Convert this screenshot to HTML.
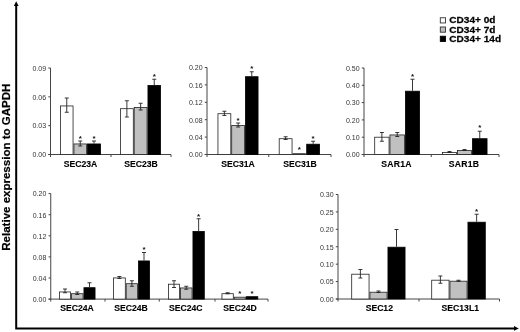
<!DOCTYPE html>
<html><head><meta charset="utf-8"><title>Relative expression to GAPDH</title>
<style>
html,body{margin:0;padding:0;background:#fff;}
body{width:520px;height:332px;overflow:hidden;}
svg{display:block;filter:blur(0.3px);}
text{font-family:"Liberation Sans",Arial,sans-serif;}
.t{font-size:8px;fill:#333;}
.c{font-size:8.65px;font-weight:bold;fill:#000;stroke:#000;stroke-width:0.12px;}
.s{font-size:8px;font-weight:bold;fill:#111;}
.l{font-size:9.3px;font-weight:bold;fill:#000;stroke:#000;stroke-width:0.25px;}
.y{font-size:10.2px;font-weight:bold;fill:#000;stroke:#000;stroke-width:0.2px;}
</style></head><body>
<svg width="520" height="332" viewBox="0 0 520 332">
<rect width="520" height="332" fill="#fff"/>
<line x1="50.5" y1="68" x2="50.5" y2="157.0" stroke="#444" stroke-width="1"/>
<line x1="48.3" y1="154.5" x2="171" y2="154.5" stroke="#444" stroke-width="1"/>
<line x1="48.3" y1="68.0" x2="50.5" y2="68.0" stroke="#444" stroke-width="1"/>
<text class="t" transform="translate(46.1,70.8) scale(0.88,1)" text-anchor="end">0.09</text>
<line x1="48.3" y1="96.83" x2="50.5" y2="96.83" stroke="#444" stroke-width="1"/>
<text class="t" transform="translate(46.1,99.63) scale(0.88,1)" text-anchor="end">0.06</text>
<line x1="48.3" y1="125.67" x2="50.5" y2="125.67" stroke="#444" stroke-width="1"/>
<text class="t" transform="translate(46.1,128.47) scale(0.88,1)" text-anchor="end">0.03</text>
<line x1="48.3" y1="154.5" x2="50.5" y2="154.5" stroke="#444" stroke-width="1"/>
<text class="t" transform="translate(46.1,157.3) scale(0.88,1)" text-anchor="end">0.00</text>
<line x1="111" y1="154.5" x2="111" y2="157.0" stroke="#444" stroke-width="1"/>
<line x1="171" y1="154.5" x2="171" y2="157.0" stroke="#444" stroke-width="1"/>
<text class="c" x="80.5" y="166.5" text-anchor="middle">SEC23A</text>
<text class="c" x="141" y="166.5" text-anchor="middle">SEC23B</text>
<rect x="60.45" y="105.95" width="12.6" height="48.55" fill="#fff" stroke="#222" stroke-width="0.8"/>
<line x1="66.75" y1="98" x2="66.75" y2="112.25" stroke="#222" stroke-width="0.9"/>
<line x1="64.75" y1="98" x2="68.75" y2="98" stroke="#222" stroke-width="0.9"/>
<line x1="64.75" y1="112.25" x2="68.75" y2="112.25" stroke="#222" stroke-width="0.9"/>
<rect x="73.95" y="143.95" width="12.6" height="10.55" fill="#c0c0c0" stroke="#222" stroke-width="0.8"/>
<line x1="80.25" y1="141" x2="80.25" y2="146" stroke="#222" stroke-width="0.9"/>
<line x1="78.25" y1="141" x2="82.25" y2="141" stroke="#222" stroke-width="0.9"/>
<line x1="78.25" y1="146" x2="82.25" y2="146" stroke="#222" stroke-width="0.9"/>
<text class="s" x="80.25" y="140.65" text-anchor="middle">*</text>
<rect x="87.45" y="143.95" width="13.1" height="10.55" fill="#000" stroke="#000" stroke-width="0.8"/>
<line x1="94.0" y1="141" x2="94.0" y2="143.5" stroke="#222" stroke-width="0.9"/>
<line x1="92.0" y1="141" x2="96.0" y2="141" stroke="#222" stroke-width="0.9"/>
<text class="s" x="94.0" y="140.65" text-anchor="middle">*</text>
<rect x="120.45" y="108.7" width="12.85" height="45.8" fill="#fff" stroke="#222" stroke-width="0.8"/>
<line x1="126.875" y1="100.75" x2="126.875" y2="117" stroke="#222" stroke-width="0.9"/>
<line x1="124.875" y1="100.75" x2="128.875" y2="100.75" stroke="#222" stroke-width="0.9"/>
<line x1="124.875" y1="117" x2="128.875" y2="117" stroke="#222" stroke-width="0.9"/>
<rect x="134.2" y="107.45" width="12.85" height="47.05" fill="#c0c0c0" stroke="#222" stroke-width="0.8"/>
<line x1="140.625" y1="103.25" x2="140.625" y2="110" stroke="#222" stroke-width="0.9"/>
<line x1="138.625" y1="103.25" x2="142.625" y2="103.25" stroke="#222" stroke-width="0.9"/>
<line x1="138.625" y1="110" x2="142.625" y2="110" stroke="#222" stroke-width="0.9"/>
<rect x="147.95" y="85.45" width="12.6" height="69.05" fill="#000" stroke="#000" stroke-width="0.8"/>
<line x1="154.25" y1="79.25" x2="154.25" y2="85" stroke="#222" stroke-width="0.9"/>
<line x1="152.25" y1="79.25" x2="156.25" y2="79.25" stroke="#222" stroke-width="0.9"/>
<text class="s" x="154.25" y="78.9" text-anchor="middle">*</text>
<line x1="207" y1="67.5" x2="207" y2="157.0" stroke="#444" stroke-width="1"/>
<line x1="204.8" y1="154.5" x2="331" y2="154.5" stroke="#444" stroke-width="1"/>
<line x1="204.8" y1="67.5" x2="207" y2="67.5" stroke="#444" stroke-width="1"/>
<text class="t" transform="translate(202.6,70.3) scale(0.88,1)" text-anchor="end">0.20</text>
<line x1="204.8" y1="84.9" x2="207" y2="84.9" stroke="#444" stroke-width="1"/>
<text class="t" transform="translate(202.6,87.7) scale(0.88,1)" text-anchor="end">0.16</text>
<line x1="204.8" y1="102.3" x2="207" y2="102.3" stroke="#444" stroke-width="1"/>
<text class="t" transform="translate(202.6,105.1) scale(0.88,1)" text-anchor="end">0.12</text>
<line x1="204.8" y1="119.7" x2="207" y2="119.7" stroke="#444" stroke-width="1"/>
<text class="t" transform="translate(202.6,122.5) scale(0.88,1)" text-anchor="end">0.08</text>
<line x1="204.8" y1="137.1" x2="207" y2="137.1" stroke="#444" stroke-width="1"/>
<text class="t" transform="translate(202.6,139.9) scale(0.88,1)" text-anchor="end">0.04</text>
<line x1="204.8" y1="154.5" x2="207" y2="154.5" stroke="#444" stroke-width="1"/>
<text class="t" transform="translate(202.6,157.3) scale(0.88,1)" text-anchor="end">0.00</text>
<line x1="268.75" y1="154.5" x2="268.75" y2="157.0" stroke="#444" stroke-width="1"/>
<line x1="331" y1="154.5" x2="331" y2="157.0" stroke="#444" stroke-width="1"/>
<text class="c" x="238" y="166.5" text-anchor="middle">SEC31A</text>
<text class="c" x="300" y="166.5" text-anchor="middle">SEC31B</text>
<rect x="217.95" y="113.7" width="12.85" height="40.8" fill="#fff" stroke="#222" stroke-width="0.8"/>
<line x1="224.375" y1="111.25" x2="224.375" y2="115.5" stroke="#222" stroke-width="0.9"/>
<line x1="222.375" y1="111.25" x2="226.375" y2="111.25" stroke="#222" stroke-width="0.9"/>
<line x1="222.375" y1="115.5" x2="226.375" y2="115.5" stroke="#222" stroke-width="0.9"/>
<rect x="231.7" y="125.45" width="12.85" height="29.05" fill="#c0c0c0" stroke="#222" stroke-width="0.8"/>
<line x1="238.125" y1="123" x2="238.125" y2="127" stroke="#222" stroke-width="0.9"/>
<line x1="236.125" y1="123" x2="240.125" y2="123" stroke="#222" stroke-width="0.9"/>
<line x1="236.125" y1="127" x2="240.125" y2="127" stroke="#222" stroke-width="0.9"/>
<text class="s" x="238.125" y="123.4" text-anchor="middle">*</text>
<rect x="245.45" y="76.7" width="12.6" height="77.8" fill="#000" stroke="#000" stroke-width="0.8"/>
<line x1="251.75" y1="71.75" x2="251.75" y2="76.25" stroke="#222" stroke-width="0.9"/>
<line x1="249.75" y1="71.75" x2="253.75" y2="71.75" stroke="#222" stroke-width="0.9"/>
<text class="s" x="251.75" y="70.5" text-anchor="middle">*</text>
<rect x="279.2" y="138.7" width="12.85" height="15.8" fill="#fff" stroke="#222" stroke-width="0.8"/>
<line x1="285.625" y1="136.75" x2="285.625" y2="139.5" stroke="#222" stroke-width="0.9"/>
<line x1="283.625" y1="136.75" x2="287.625" y2="136.75" stroke="#222" stroke-width="0.9"/>
<line x1="283.625" y1="139.5" x2="287.625" y2="139.5" stroke="#222" stroke-width="0.9"/>
<rect x="292.95" y="153.7" width="12.6" height="0.8" fill="#c0c0c0" stroke="#222" stroke-width="0.8"/>
<text class="s" x="299.25" y="152.15" text-anchor="middle">*</text>
<rect x="306.7" y="144.2" width="12.85" height="10.3" fill="#000" stroke="#000" stroke-width="0.8"/>
<line x1="313.125" y1="141.25" x2="313.125" y2="143.75" stroke="#222" stroke-width="0.9"/>
<line x1="311.125" y1="141.25" x2="315.125" y2="141.25" stroke="#222" stroke-width="0.9"/>
<text class="s" x="313.125" y="141.4" text-anchor="middle">*</text>
<line x1="364" y1="68" x2="364" y2="157.0" stroke="#444" stroke-width="1"/>
<line x1="361.8" y1="154.5" x2="499" y2="154.5" stroke="#444" stroke-width="1"/>
<line x1="361.8" y1="68.0" x2="364" y2="68.0" stroke="#444" stroke-width="1"/>
<text class="t" transform="translate(359.6,70.8) scale(0.88,1)" text-anchor="end">0.50</text>
<line x1="361.8" y1="85.3" x2="364" y2="85.3" stroke="#444" stroke-width="1"/>
<text class="t" transform="translate(359.6,88.1) scale(0.88,1)" text-anchor="end">0.40</text>
<line x1="361.8" y1="102.6" x2="364" y2="102.6" stroke="#444" stroke-width="1"/>
<text class="t" transform="translate(359.6,105.4) scale(0.88,1)" text-anchor="end">0.30</text>
<line x1="361.8" y1="119.9" x2="364" y2="119.9" stroke="#444" stroke-width="1"/>
<text class="t" transform="translate(359.6,122.7) scale(0.88,1)" text-anchor="end">0.20</text>
<line x1="361.8" y1="137.2" x2="364" y2="137.2" stroke="#444" stroke-width="1"/>
<text class="t" transform="translate(359.6,140.0) scale(0.88,1)" text-anchor="end">0.10</text>
<line x1="361.8" y1="154.5" x2="364" y2="154.5" stroke="#444" stroke-width="1"/>
<text class="t" transform="translate(359.6,157.3) scale(0.88,1)" text-anchor="end">0.00</text>
<line x1="431.25" y1="154.5" x2="431.25" y2="157.0" stroke="#444" stroke-width="1"/>
<line x1="499" y1="154.5" x2="499" y2="157.0" stroke="#444" stroke-width="1"/>
<text class="c" x="396.5" y="166.5" text-anchor="middle" letter-spacing="0.3">SAR1A</text>
<text class="c" x="464" y="166.5" text-anchor="middle" letter-spacing="0.3">SAR1B</text>
<rect x="374.7" y="137.2" width="14.35" height="17.3" fill="#fff" stroke="#222" stroke-width="0.8"/>
<line x1="381.875" y1="132.5" x2="381.875" y2="141.25" stroke="#222" stroke-width="0.9"/>
<line x1="379.875" y1="132.5" x2="383.875" y2="132.5" stroke="#222" stroke-width="0.9"/>
<line x1="379.875" y1="141.25" x2="383.875" y2="141.25" stroke="#222" stroke-width="0.9"/>
<rect x="389.95" y="134.95" width="14.6" height="19.55" fill="#c0c0c0" stroke="#222" stroke-width="0.8"/>
<line x1="397.25" y1="132.5" x2="397.25" y2="136.5" stroke="#222" stroke-width="0.9"/>
<line x1="395.25" y1="132.5" x2="399.25" y2="132.5" stroke="#222" stroke-width="0.9"/>
<line x1="395.25" y1="136.5" x2="399.25" y2="136.5" stroke="#222" stroke-width="0.9"/>
<rect x="405.45" y="91.2" width="14.1" height="63.3" fill="#000" stroke="#000" stroke-width="0.8"/>
<line x1="412.5" y1="79.25" x2="412.5" y2="90.75" stroke="#222" stroke-width="0.9"/>
<line x1="410.5" y1="79.25" x2="414.5" y2="79.25" stroke="#222" stroke-width="0.9"/>
<text class="s" x="412.5" y="78.9" text-anchor="middle">*</text>
<rect x="442.45" y="152.45" width="14.1" height="2.05" fill="#fff" stroke="#222" stroke-width="0.8"/>
<line x1="449.5" y1="151.5" x2="449.5" y2="152.5" stroke="#222" stroke-width="0.9"/>
<line x1="447.5" y1="151.5" x2="451.5" y2="151.5" stroke="#222" stroke-width="0.9"/>
<line x1="447.5" y1="152.5" x2="451.5" y2="152.5" stroke="#222" stroke-width="0.9"/>
<rect x="457.45" y="150.45" width="14.1" height="4.05" fill="#c0c0c0" stroke="#222" stroke-width="0.8"/>
<line x1="464.5" y1="149.5" x2="464.5" y2="150.5" stroke="#222" stroke-width="0.9"/>
<line x1="462.5" y1="149.5" x2="466.5" y2="149.5" stroke="#222" stroke-width="0.9"/>
<line x1="462.5" y1="150.5" x2="466.5" y2="150.5" stroke="#222" stroke-width="0.9"/>
<rect x="472.45" y="138.7" width="14.6" height="15.8" fill="#000" stroke="#000" stroke-width="0.8"/>
<line x1="479.75" y1="131.25" x2="479.75" y2="138.25" stroke="#222" stroke-width="0.9"/>
<line x1="477.75" y1="131.25" x2="481.75" y2="131.25" stroke="#222" stroke-width="0.9"/>
<text class="s" x="479.75" y="129.9" text-anchor="middle">*</text>
<line x1="50.75" y1="193.6" x2="50.75" y2="301.6" stroke="#444" stroke-width="1"/>
<line x1="48.55" y1="299.1" x2="268" y2="299.1" stroke="#444" stroke-width="1"/>
<line x1="48.55" y1="193.6" x2="50.75" y2="193.6" stroke="#444" stroke-width="1"/>
<text class="t" transform="translate(46.35,196.4) scale(0.88,1)" text-anchor="end">0.20</text>
<line x1="48.55" y1="214.7" x2="50.75" y2="214.7" stroke="#444" stroke-width="1"/>
<text class="t" transform="translate(46.35,217.5) scale(0.88,1)" text-anchor="end">0.16</text>
<line x1="48.55" y1="235.8" x2="50.75" y2="235.8" stroke="#444" stroke-width="1"/>
<text class="t" transform="translate(46.35,238.6) scale(0.88,1)" text-anchor="end">0.12</text>
<line x1="48.55" y1="256.9" x2="50.75" y2="256.9" stroke="#444" stroke-width="1"/>
<text class="t" transform="translate(46.35,259.7) scale(0.88,1)" text-anchor="end">0.08</text>
<line x1="48.55" y1="278.0" x2="50.75" y2="278.0" stroke="#444" stroke-width="1"/>
<text class="t" transform="translate(46.35,280.8) scale(0.88,1)" text-anchor="end">0.04</text>
<line x1="48.55" y1="299.1" x2="50.75" y2="299.1" stroke="#444" stroke-width="1"/>
<text class="t" transform="translate(46.35,301.9) scale(0.88,1)" text-anchor="end">0.00</text>
<line x1="105" y1="299.1" x2="105" y2="301.6" stroke="#444" stroke-width="1"/>
<line x1="159.3" y1="299.1" x2="159.3" y2="301.6" stroke="#444" stroke-width="1"/>
<line x1="215" y1="299.1" x2="215" y2="301.6" stroke="#444" stroke-width="1"/>
<line x1="268" y1="299.1" x2="268" y2="301.6" stroke="#444" stroke-width="1"/>
<text class="c" x="77" y="311.1" text-anchor="middle">SEC24A</text>
<text class="c" x="131" y="311.1" text-anchor="middle">SEC24B</text>
<text class="c" x="185.8" y="311.1" text-anchor="middle">SEC24C</text>
<text class="c" x="240" y="311.1" text-anchor="middle">SEC24D</text>
<rect x="59.45" y="291.95" width="11.1" height="7.15" fill="#fff" stroke="#222" stroke-width="0.8"/>
<line x1="65.0" y1="289" x2="65.0" y2="292.75" stroke="#222" stroke-width="0.9"/>
<line x1="63.0" y1="289" x2="67.0" y2="289" stroke="#222" stroke-width="0.9"/>
<line x1="63.0" y1="292.75" x2="67.0" y2="292.75" stroke="#222" stroke-width="0.9"/>
<rect x="71.45" y="293.7" width="11.6" height="5.4" fill="#c0c0c0" stroke="#222" stroke-width="0.8"/>
<line x1="77.25" y1="292" x2="77.25" y2="294.5" stroke="#222" stroke-width="0.9"/>
<line x1="75.25" y1="292" x2="79.25" y2="292" stroke="#222" stroke-width="0.9"/>
<line x1="75.25" y1="294.5" x2="79.25" y2="294.5" stroke="#222" stroke-width="0.9"/>
<rect x="83.95" y="287.7" width="11.1" height="11.4" fill="#000" stroke="#000" stroke-width="0.8"/>
<line x1="89.5" y1="282.75" x2="89.5" y2="287.25" stroke="#222" stroke-width="0.9"/>
<line x1="87.5" y1="282.75" x2="91.5" y2="282.75" stroke="#222" stroke-width="0.9"/>
<rect x="113.45" y="277.95" width="11.85" height="21.15" fill="#fff" stroke="#222" stroke-width="0.8"/>
<line x1="119.375" y1="276.5" x2="119.375" y2="278.5" stroke="#222" stroke-width="0.9"/>
<line x1="117.375" y1="276.5" x2="121.375" y2="276.5" stroke="#222" stroke-width="0.9"/>
<line x1="117.375" y1="278.5" x2="121.375" y2="278.5" stroke="#222" stroke-width="0.9"/>
<rect x="126.2" y="283.7" width="11.35" height="15.4" fill="#c0c0c0" stroke="#222" stroke-width="0.8"/>
<line x1="131.875" y1="280.75" x2="131.875" y2="286.25" stroke="#222" stroke-width="0.9"/>
<line x1="129.875" y1="280.75" x2="133.875" y2="280.75" stroke="#222" stroke-width="0.9"/>
<line x1="129.875" y1="286.25" x2="133.875" y2="286.25" stroke="#222" stroke-width="0.9"/>
<rect x="138.45" y="260.95" width="11.1" height="38.15" fill="#000" stroke="#000" stroke-width="0.8"/>
<line x1="144.0" y1="252.5" x2="144.0" y2="260.5" stroke="#222" stroke-width="0.9"/>
<line x1="142.0" y1="252.5" x2="146.0" y2="252.5" stroke="#222" stroke-width="0.9"/>
<text class="s" x="144.0" y="251.9" text-anchor="middle">*</text>
<rect x="168.45" y="284.2" width="11.1" height="14.9" fill="#fff" stroke="#222" stroke-width="0.8"/>
<line x1="174.0" y1="280.75" x2="174.0" y2="287.5" stroke="#222" stroke-width="0.9"/>
<line x1="172.0" y1="280.75" x2="176.0" y2="280.75" stroke="#222" stroke-width="0.9"/>
<line x1="172.0" y1="287.5" x2="176.0" y2="287.5" stroke="#222" stroke-width="0.9"/>
<rect x="180.45" y="287.95" width="11.6" height="11.15" fill="#c0c0c0" stroke="#222" stroke-width="0.8"/>
<line x1="186.25" y1="286.25" x2="186.25" y2="289.25" stroke="#222" stroke-width="0.9"/>
<line x1="184.25" y1="286.25" x2="188.25" y2="286.25" stroke="#222" stroke-width="0.9"/>
<line x1="184.25" y1="289.25" x2="188.25" y2="289.25" stroke="#222" stroke-width="0.9"/>
<rect x="192.95" y="231.45" width="11.35" height="67.65" fill="#000" stroke="#000" stroke-width="0.8"/>
<line x1="198.625" y1="218.75" x2="198.625" y2="231" stroke="#222" stroke-width="0.9"/>
<line x1="196.625" y1="218.75" x2="200.625" y2="218.75" stroke="#222" stroke-width="0.9"/>
<text class="s" x="198.625" y="218.9" text-anchor="middle">*</text>
<rect x="221.95" y="293.7" width="11.35" height="5.4" fill="#fff" stroke="#222" stroke-width="0.8"/>
<line x1="227.625" y1="292.75" x2="227.625" y2="293.75" stroke="#222" stroke-width="0.9"/>
<line x1="225.625" y1="292.75" x2="229.625" y2="292.75" stroke="#222" stroke-width="0.9"/>
<line x1="225.625" y1="293.75" x2="229.625" y2="293.75" stroke="#222" stroke-width="0.9"/>
<rect x="234.2" y="297.2" width="11.1" height="1.9" fill="#c0c0c0" stroke="#222" stroke-width="0.8"/>
<text class="s" x="239.75" y="296.2" text-anchor="middle">*</text>
<rect x="246.2" y="296.7" width="11.6" height="2.4" fill="#000" stroke="#000" stroke-width="0.8"/>
<text class="s" x="252.0" y="296.2" text-anchor="middle">*</text>
<line x1="338" y1="194.5" x2="338" y2="301.5" stroke="#444" stroke-width="1"/>
<line x1="335.8" y1="299" x2="499.5" y2="299" stroke="#444" stroke-width="1"/>
<line x1="335.8" y1="194.5" x2="338" y2="194.5" stroke="#444" stroke-width="1"/>
<text class="t" transform="translate(333.6,197.3) scale(0.88,1)" text-anchor="end">0.30</text>
<line x1="335.8" y1="211.92" x2="338" y2="211.92" stroke="#444" stroke-width="1"/>
<text class="t" transform="translate(333.6,214.72) scale(0.88,1)" text-anchor="end">0.25</text>
<line x1="335.8" y1="229.33" x2="338" y2="229.33" stroke="#444" stroke-width="1"/>
<text class="t" transform="translate(333.6,232.13) scale(0.88,1)" text-anchor="end">0.20</text>
<line x1="335.8" y1="246.75" x2="338" y2="246.75" stroke="#444" stroke-width="1"/>
<text class="t" transform="translate(333.6,249.55) scale(0.88,1)" text-anchor="end">0.15</text>
<line x1="335.8" y1="264.17" x2="338" y2="264.17" stroke="#444" stroke-width="1"/>
<text class="t" transform="translate(333.6,266.97) scale(0.88,1)" text-anchor="end">0.10</text>
<line x1="335.8" y1="281.58" x2="338" y2="281.58" stroke="#444" stroke-width="1"/>
<text class="t" transform="translate(333.6,284.38) scale(0.88,1)" text-anchor="end">0.05</text>
<line x1="335.8" y1="299.0" x2="338" y2="299.0" stroke="#444" stroke-width="1"/>
<text class="t" transform="translate(333.6,301.8) scale(0.88,1)" text-anchor="end">0.00</text>
<line x1="419" y1="299" x2="419" y2="301.5" stroke="#444" stroke-width="1"/>
<line x1="499.5" y1="299" x2="499.5" y2="301.5" stroke="#444" stroke-width="1"/>
<text class="c" x="379.3" y="311" text-anchor="middle">SEC12</text>
<text class="c" x="460.3" y="311" text-anchor="middle">SEC13L1</text>
<rect x="351.7" y="274.2" width="17.35" height="24.8" fill="#fff" stroke="#222" stroke-width="0.8"/>
<line x1="360.375" y1="269.5" x2="360.375" y2="278" stroke="#222" stroke-width="0.9"/>
<line x1="358.375" y1="269.5" x2="362.375" y2="269.5" stroke="#222" stroke-width="0.9"/>
<line x1="358.375" y1="278" x2="362.375" y2="278" stroke="#222" stroke-width="0.9"/>
<rect x="369.95" y="292.2" width="17.1" height="6.8" fill="#c0c0c0" stroke="#222" stroke-width="0.8"/>
<line x1="378.5" y1="291" x2="378.5" y2="292.5" stroke="#222" stroke-width="0.9"/>
<line x1="376.5" y1="291" x2="380.5" y2="291" stroke="#222" stroke-width="0.9"/>
<line x1="376.5" y1="292.5" x2="380.5" y2="292.5" stroke="#222" stroke-width="0.9"/>
<rect x="387.95" y="247.2" width="17.1" height="51.8" fill="#000" stroke="#000" stroke-width="0.8"/>
<line x1="396.5" y1="229.5" x2="396.5" y2="246.75" stroke="#222" stroke-width="0.9"/>
<line x1="394.5" y1="229.5" x2="398.5" y2="229.5" stroke="#222" stroke-width="0.9"/>
<rect x="431.7" y="280.2" width="17.35" height="18.8" fill="#fff" stroke="#222" stroke-width="0.8"/>
<line x1="440.375" y1="276" x2="440.375" y2="283.25" stroke="#222" stroke-width="0.9"/>
<line x1="438.375" y1="276" x2="442.375" y2="276" stroke="#222" stroke-width="0.9"/>
<line x1="438.375" y1="283.25" x2="442.375" y2="283.25" stroke="#222" stroke-width="0.9"/>
<rect x="449.95" y="281.2" width="17.1" height="17.8" fill="#c0c0c0" stroke="#222" stroke-width="0.8"/>
<line x1="458.5" y1="280.25" x2="458.5" y2="281.25" stroke="#222" stroke-width="0.9"/>
<line x1="456.5" y1="280.25" x2="460.5" y2="280.25" stroke="#222" stroke-width="0.9"/>
<line x1="456.5" y1="281.25" x2="460.5" y2="281.25" stroke="#222" stroke-width="0.9"/>
<rect x="467.95" y="222.2" width="17.35" height="76.8" fill="#000" stroke="#000" stroke-width="0.8"/>
<line x1="476.625" y1="214.25" x2="476.625" y2="221.75" stroke="#222" stroke-width="0.9"/>
<line x1="474.625" y1="214.25" x2="478.625" y2="214.25" stroke="#222" stroke-width="0.9"/>
<text class="s" x="476.625" y="213.9" text-anchor="middle">*</text>
<path d="M16.2 5 V328.4 H515" fill="none" stroke="#000" stroke-width="2"/>
<path d="M16.2 1.2 L18.6 6 H13.8 Z" fill="#000"/>
<path d="M518.8 328.4 L514 326.1 V330.7 Z" fill="#000"/>
<text class="y" transform="translate(9.9,167.2) rotate(-90) scale(1.13,1)" text-anchor="middle">Relative expression to GAPDH</text>
<rect x="440.3" y="17.75" width="5.2" height="5.2" fill="#fff" stroke="#333" stroke-width="0.9"/>
<text class="l" transform="translate(449.3,23.45) scale(1.084,1)">CD34+ 0d</text>
<rect x="440.3" y="27.0" width="5.2" height="5.2" fill="#c0c0c0" stroke="#333" stroke-width="0.9"/>
<text class="l" transform="translate(449.3,32.7) scale(1.084,1)">CD34+ 7d</text>
<rect x="440.3" y="36.25" width="5.2" height="5.2" fill="#000" stroke="#000" stroke-width="0.9"/>
<text class="l" transform="translate(449.3,41.95) scale(1.084,1)">CD34+ 14d</text>
</svg>
</body></html>
